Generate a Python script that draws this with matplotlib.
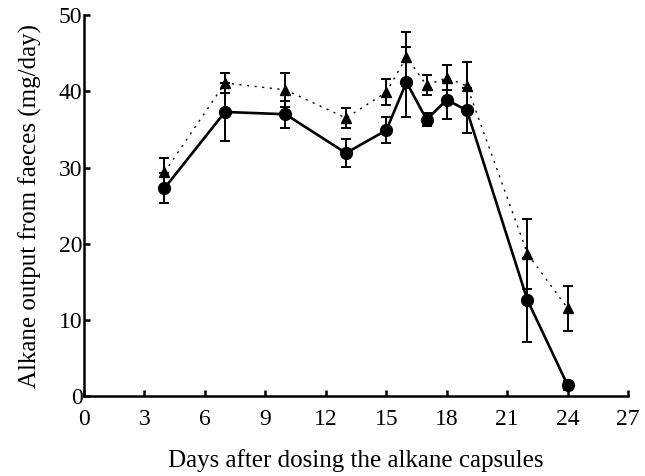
import numpy as np
import matplotlib
matplotlib.use("Agg")
import matplotlib.pyplot as plt

plt.rcParams['font.family'] = ['Liberation Serif', 'DejaVu Serif']

days = [4, 7, 10, 13, 15, 16, 17, 18, 19, 22, 24]

# circles (solid line)
circ = [27.3, 37.3, 37.0, 31.9, 34.9, 41.2, 36.3, 38.9, 37.5, 12.6, 1.4]
circ_err = [2.0, 3.8, 1.8, 1.8, 1.7, 4.6, 0.8, 2.5, 3.0, 5.5, 0.6]

# triangles (dotted line)
tri = [29.4, 41.1, 40.2, 36.5, 39.9, 44.5, 40.8, 41.8, 40.7, 18.7, 11.5]
tri_err = [1.8, 1.3, 2.2, 1.3, 1.7, 3.3, 1.3, 1.6, 3.2, 4.6, 3.0]

xticks = [0, 3, 6, 9, 12, 15, 18, 21, 24, 27]
yticks = [0, 10, 20, 30, 40, 50]

fig = plt.figure(figsize=(6.45, 4.76), dpi=100)
ax = fig.add_axes([0.130, 0.168, 0.844, 0.800])

ax.errorbar(days, tri, yerr=tri_err, color='black', ls=(0, (1.5, 4)), lw=1.0,
            marker='^', ms=7, capsize=3.5, elinewidth=1.4, capthick=1.4)
ax.errorbar(days, circ, yerr=circ_err, color='black', ls='-', lw=1.9,
            marker='o', ms=8.5, capsize=3.5, elinewidth=1.4, capthick=1.4)

ax.set_xlim(0, 27)
ax.set_ylim(0, 50)
ax.set_xticks(xticks)
ax.set_yticks(yticks)
ax.spines['top'].set_visible(False)
ax.spines['right'].set_visible(False)
ax.spines['left'].set_linewidth(1.8)
ax.spines['bottom'].set_linewidth(1.8)
ax.tick_params(direction='in', length=4, width=1.8, labelsize=17)
ax.tick_params(axis='x', pad=9)
ax.tick_params(axis='y', pad=1)

ax.set_xlabel('Days after dosing the alkane capsules', fontsize=18, labelpad=14)
ax.set_ylabel('Alkane output from faeces (mg/day)', fontsize=18, labelpad=12)

fig.savefig('out.png', dpi=100)
